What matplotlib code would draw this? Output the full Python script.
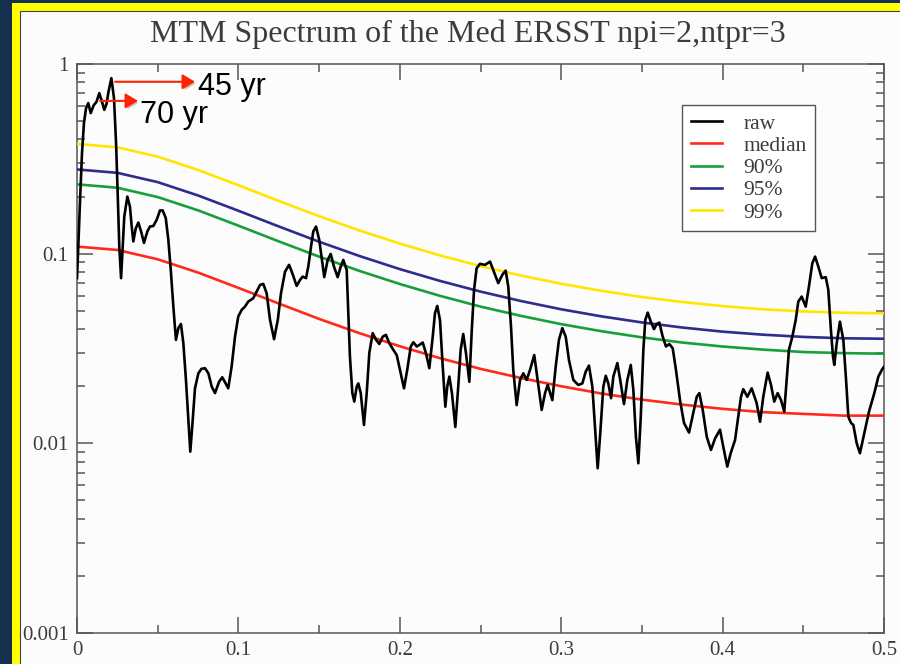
import matplotlib
matplotlib.use("Agg")
import matplotlib.pyplot as plt
from matplotlib.patches import Rectangle, FancyArrowPatch
from matplotlib.lines import Line2D
from matplotlib.ticker import FixedLocator, MultipleLocator, LogLocator, NullFormatter
import matplotlib.patheffects as pe

# ---- MTM spectrum (raw) ----
raw_freq = [
    0.0000, 0.0008, 0.0019, 0.0031, 0.0043, 0.0056, 0.0070, 0.0085, 0.0103, 0.0121,
    0.0138, 0.0155, 0.0169, 0.0183, 0.0195, 0.0213, 0.0229, 0.0242, 0.0252, 0.0262,
    0.0273, 0.0283, 0.0293, 0.0312, 0.0328, 0.0339, 0.0349, 0.0364, 0.0380, 0.0397,
    0.0415, 0.0436, 0.0452, 0.0473, 0.0494, 0.0514, 0.0531, 0.0550, 0.0566, 0.0581,
    0.0597, 0.0613, 0.0628, 0.0644, 0.0659, 0.0675, 0.0690, 0.0702, 0.0717, 0.0731,
    0.0752, 0.0771, 0.0793, 0.0814, 0.0835, 0.0855, 0.0880, 0.0900, 0.0921, 0.0937,
    0.0958, 0.0979, 0.0999, 0.1020, 0.1041, 0.1061, 0.1092, 0.1113, 0.1134, 0.1154,
    0.1175, 0.1196, 0.1221, 0.1244, 0.1264, 0.1289, 0.1314, 0.1334, 0.1361, 0.1382,
    0.1398, 0.1419, 0.1433, 0.1450, 0.1464, 0.1481, 0.1501, 0.1520, 0.1532, 0.1553,
    0.1572, 0.1592, 0.1615, 0.1634, 0.1650, 0.1671, 0.1681, 0.1691, 0.1706, 0.1718,
    0.1733, 0.1743, 0.1758, 0.1778, 0.1795, 0.1811, 0.1832, 0.1853, 0.1873, 0.1894,
    0.1914, 0.1935, 0.1960, 0.1981, 0.2001, 0.2026, 0.2046, 0.2068, 0.2084, 0.2105,
    0.2121, 0.2142, 0.2162, 0.2183, 0.2204, 0.2218, 0.2232, 0.2249, 0.2266, 0.2282,
    0.2294, 0.2307, 0.2323, 0.2344, 0.2362, 0.2377, 0.2393, 0.2410, 0.2431, 0.2446,
    0.2460, 0.2476, 0.2497, 0.2528, 0.2559, 0.2586, 0.2610, 0.2635, 0.2656, 0.2672,
    0.2689, 0.2703, 0.2724, 0.2745, 0.2765, 0.2786, 0.2807, 0.2833, 0.2854, 0.2879,
    0.2900, 0.2916, 0.2945, 0.2966, 0.2986, 0.3007, 0.3028, 0.3048, 0.3075, 0.3106,
    0.3131, 0.3152, 0.3172, 0.3193, 0.3209, 0.3226, 0.3242, 0.3261, 0.3276, 0.3292,
    0.3309, 0.3323, 0.3348, 0.3369, 0.3389, 0.3410, 0.3431, 0.3447, 0.3463, 0.3478,
    0.3493, 0.3509, 0.3521, 0.3536, 0.3555, 0.3575, 0.3592, 0.3608, 0.3629, 0.3649,
    0.3670, 0.3691, 0.3711, 0.3736, 0.3761, 0.3792, 0.3818, 0.3840, 0.3856, 0.3877,
    0.3902, 0.3928, 0.3953, 0.3984, 0.4004, 0.4029, 0.4050, 0.4077, 0.4097, 0.4114,
    0.4128, 0.4153, 0.4180, 0.4211, 0.4232, 0.4252, 0.4279, 0.4300, 0.4320, 0.4341,
    0.4362, 0.4382, 0.4397, 0.4411, 0.4432, 0.4453, 0.4469, 0.4490, 0.4515, 0.4535,
    0.4556, 0.4573, 0.4593, 0.4614, 0.4639, 0.4655, 0.4671, 0.4684, 0.4692, 0.4707,
    0.4727, 0.4748, 0.4765, 0.4779, 0.4796, 0.4810, 0.4831, 0.4851, 0.4878, 0.4907,
    0.4940, 0.4965, 0.4989, 0.5000,
]
raw_power = [
    0.0743, 0.109, 0.192, 0.339, 0.488, 0.585, 0.622, 0.551, 0.605, 0.632,
    0.702, 0.632, 0.573, 0.617, 0.713, 0.842, 0.663, 0.384, 0.209, 0.109,
    0.0743, 0.109, 0.157, 0.200, 0.177, 0.139, 0.116, 0.136, 0.146, 0.131,
    0.114, 0.131, 0.139, 0.140, 0.151, 0.169, 0.169, 0.154, 0.118, 0.0821,
    0.0526, 0.0351, 0.0405, 0.0426, 0.0337, 0.0216, 0.0133, 0.00904, 0.0133, 0.0195,
    0.0234, 0.0247, 0.0249, 0.0234, 0.0199, 0.0184, 0.0211, 0.0223, 0.0207, 0.0195,
    0.0254, 0.0365, 0.0466, 0.0505, 0.0526, 0.0559, 0.0582, 0.0631, 0.0684, 0.0693,
    0.0619, 0.0447, 0.0354, 0.0447, 0.0619, 0.0804, 0.0873, 0.0789, 0.0676, 0.0727,
    0.0757, 0.0743, 0.0855, 0.109, 0.131, 0.139, 0.118, 0.0891, 0.0752, 0.0927,
    0.0997, 0.0855, 0.0752, 0.0855, 0.0927, 0.0821, 0.0486, 0.0287, 0.0184, 0.0166,
    0.0199, 0.0207, 0.0184, 0.0125, 0.0184, 0.0299, 0.0381, 0.0351, 0.0334, 0.0365,
    0.0373, 0.0337, 0.0311, 0.0292, 0.0244, 0.0195, 0.0244, 0.0324, 0.0341, 0.0324,
    0.0330, 0.0340, 0.0299, 0.0249, 0.0365, 0.0486, 0.0530, 0.0447, 0.0254, 0.0156,
    0.0199, 0.0225, 0.0184, 0.0122, 0.0199, 0.0311, 0.0377, 0.0299, 0.0211, 0.0396,
    0.0644, 0.0838, 0.0884, 0.0873, 0.0908, 0.0789, 0.0699, 0.0773, 0.0814, 0.0671,
    0.0412, 0.0244, 0.0159, 0.0216, 0.0234, 0.0216, 0.0244, 0.0292, 0.0216, 0.0150,
    0.0184, 0.0203, 0.0169, 0.0254, 0.0351, 0.0405, 0.0365, 0.0275, 0.0216, 0.0203,
    0.0207, 0.0239, 0.0257, 0.0199, 0.0122, 0.00739, 0.0113, 0.0199, 0.0227, 0.0207,
    0.0173, 0.0225, 0.0265, 0.0207, 0.0161, 0.0216, 0.0259, 0.0191, 0.0108, 0.00785,
    0.0138, 0.0311, 0.0447, 0.0489, 0.0438, 0.0400, 0.0426, 0.0433, 0.0365, 0.0324,
    0.0334, 0.0317, 0.0244, 0.0169, 0.0128, 0.0114, 0.0144, 0.0176, 0.0184, 0.0150,
    0.0108, 0.00923, 0.0106, 0.0118, 0.00961, 0.00754, 0.00887, 0.0104, 0.0138, 0.0176,
    0.0193, 0.0176, 0.0195, 0.0163, 0.0130, 0.0176, 0.0236, 0.0203, 0.0166, 0.0184,
    0.0169, 0.0147, 0.0216, 0.0311, 0.0365, 0.0447, 0.0559, 0.0594, 0.0526, 0.0671,
    0.0891, 0.0965, 0.0855, 0.0743, 0.0752, 0.0644, 0.0396, 0.0287, 0.0259, 0.0337,
    0.0438, 0.0351, 0.0216, 0.0138, 0.0128, 0.0125, 0.0100, 0.00887, 0.0113, 0.0147,
    0.0184, 0.0225, 0.0246, 0.0253,
]

# ---- red-noise background and confidence levels ----
fit_freq = [0.000, 0.025, 0.050, 0.075, 0.100, 0.125, 0.150, 0.175, 0.200, 0.225, 0.250,
            0.275, 0.300, 0.325, 0.350, 0.375, 0.400, 0.425, 0.450, 0.475, 0.500]
median = [0.1090, 0.1046, 0.0934, 0.0795, 0.0660, 0.0546, 0.0453, 0.0381, 0.0325, 0.0281,
          0.0247, 0.0221, 0.0200, 0.0183, 0.0170, 0.0160, 0.0152, 0.0146, 0.0143, 0.0140, 0.0140]
conf90 = [0.2320, 0.2227, 0.1988, 0.1692, 0.1405, 0.1161, 0.0965, 0.0811, 0.0692, 0.0599,
          0.0526, 0.0470, 0.0425, 0.0390, 0.0362, 0.0340, 0.0324, 0.0312, 0.0303, 0.0299, 0.0297]
conf95 = [0.2780, 0.2668, 0.2383, 0.2027, 0.1684, 0.1392, 0.1156, 0.0972, 0.0829, 0.0718,
          0.0631, 0.0563, 0.0509, 0.0467, 0.0434, 0.0408, 0.0388, 0.0374, 0.0364, 0.0358, 0.0356]
conf99 = [0.3790, 0.3638, 0.3248, 0.2764, 0.2296, 0.1897, 0.1576, 0.1325, 0.1130, 0.0979,
          0.0860, 0.0767, 0.0694, 0.0637, 0.0591, 0.0556, 0.0529, 0.0509, 0.0496, 0.0488, 0.0485]

x_ticks = [0, 0.1, 0.2, 0.3, 0.4, 0.5]
x_ticklabels = ["0", "0.1", "0.2", "0.3", "0.4", "0.5"]
y_ticks = [0.001, 0.01, 0.1, 1]
y_ticklabels = ["0.001", "0.01", "0.1", "1"]

# peaks called out with arrows: (label, arrow tail, arrow tip, text anchor)
peak_notes = [
    ("45 yr", (0.0236, 0.806), (0.0731, 0.806), (0.0750, 0.688)),
    ("70 yr", (0.0143, 0.639), (0.0378, 0.639), (0.0390, 0.488)),
]

SERIF = "Liberation Serif"
SANS = "Liberation Sans"
NAVY = "#15304f"
YELLOW = "#ffff00"
AXIS_GREY = "#555555"
TEXT_GREY = "#3c3c3c"

W, H = 900, 664
fig = plt.figure(figsize=(W / 100, H / 100), dpi=100, facecolor="#fcfcfc")


def fx(px):
    return px / W


def fy(py):
    return 1 - py / H


# slide frame: navy edge, yellow band, thin dark inner line
for x0, y0, x1, y1, c in [
    (0, 0, 12, H, NAVY),
    (0, 0, W, 3, NAVY),
    (12, 3, 20, H, YELLOW),
    (12, 3, W, 11, YELLOW),
]:
    fig.add_artist(Rectangle((fx(x0), fy(y1)), fx(x1 - x0), (y1 - y0) / H,
                             transform=fig.transFigure, color=c, lw=0, zorder=-5))
fig.add_artist(Rectangle((fx(20), fy(H + 2)), fx(W), (H - 9) / H, transform=fig.transFigure,
                         fill=False, ec="#444444", lw=0.8, zorder=-4))

ax = fig.add_axes([fx(77), fy(633), fx(807), (633 - 64) / H])
ax.set_facecolor("#fcfcfc")

lw = 1.9
ax.plot(raw_freq, raw_power, color="black", lw=lw, solid_joinstyle="round", zorder=5)
ax.plot(fit_freq, median, color="#ff2a1a", lw=lw, zorder=3)
ax.plot(fit_freq, conf90, color="#16a03a", lw=lw, zorder=3)
ax.plot(fit_freq, conf95, color="#2e2c8c", lw=lw, zorder=3)
ax.plot(fit_freq, conf99, color="#ffe600", lw=lw, zorder=3)

ax.set_yscale("log")
ax.set_xlim(0, 0.5)
ax.set_ylim(0.001, 1)

ax.xaxis.set_major_locator(FixedLocator(x_ticks))
ax.set_xticklabels(x_ticklabels)
ax.xaxis.set_minor_locator(MultipleLocator(0.05))
ax.yaxis.set_major_locator(FixedLocator(y_ticks))
ax.set_yticklabels(y_ticklabels)
ax.yaxis.set_minor_locator(LogLocator(base=10, subs=range(2, 10)))
ax.yaxis.set_minor_formatter(NullFormatter())

ax.tick_params(which="both", direction="in", top=True, right=True, colors=AXIS_GREY,
               width=1.1, labelcolor=TEXT_GREY)
ax.tick_params(which="major", length=11.5, labelsize=15, pad=6)
ax.tick_params(which="minor", length=5.8)
for lab in ax.get_xticklabels() + ax.get_yticklabels():
    lab.set_family(SERIF)
for s in ax.spines.values():
    s.set_color(AXIS_GREY)
    s.set_linewidth(1.1)

fig.text(fx(468), fy(42), "MTM Spectrum of the Med ERSST npi=2,ntpr=3", ha="center",
         va="baseline", family=SERIF, fontsize=23, color=TEXT_GREY)

handles = [Line2D([], [], color=c, lw=lw) for c in
           ["black", "#ff2a1a", "#16a03a", "#2e2c8c", "#ffe600"]]
leg = ax.legend(handles, ["raw", "median", "90%", "95%", "99%"], loc="upper left",
                bbox_to_anchor=(fx(682), fy(105)), bbox_transform=fig.transFigure,
                prop={"family": SERIF, "size": 15.5}, frameon=True, fancybox=False,
                framealpha=1, edgecolor="#555555", handlelength=1.45, handletextpad=1.0,
                labelspacing=0.1, borderpad=0.4, borderaxespad=0)
leg.get_frame().set_linewidth(1.0)
for t in leg.get_texts():
    t.set_color(TEXT_GREY)

shadow = [pe.SimplePatchShadow(offset=(1.5, -1.5), alpha=0.25), pe.Normal()]
for label, tail, tip, txt in peak_notes:
    arrow = FancyArrowPatch(tail, tip, arrowstyle="-|>,head_length=0.75,head_width=0.45",
                            mutation_scale=10, color="#ff2200", lw=1.5,
                            shrinkA=0, shrinkB=0, zorder=8)
    arrow.set_path_effects(shadow)
    ax.add_patch(arrow)
    ax.text(txt[0], txt[1], label, family=SANS, fontsize=22, color="black",
            ha="left", va="baseline", zorder=9)

fig.savefig("out.png", dpi=100, facecolor=fig.get_facecolor())
